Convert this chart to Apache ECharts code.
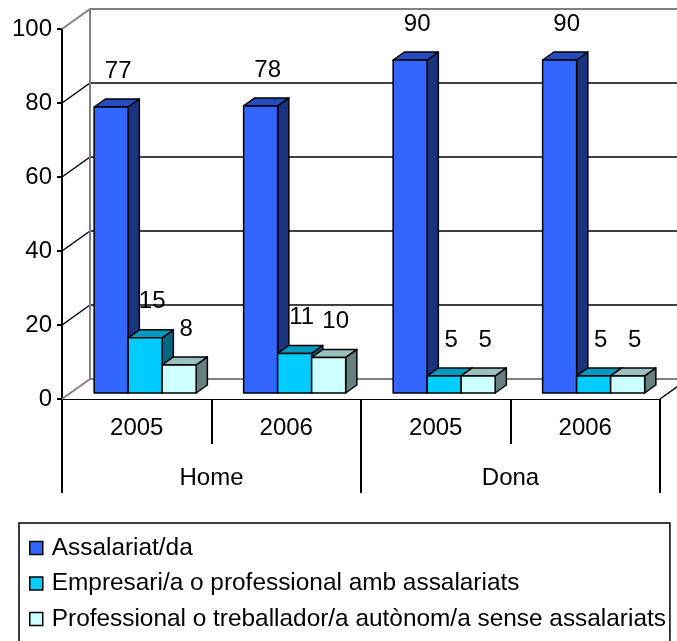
<!DOCTYPE html>
<html>
<head>
<meta charset="utf-8">
<title>ECharts</title>
<script src="https://cdn.jsdelivr.net/npm/echarts@6/dist/echarts.min.js"></script>
<style type="text/css">
    html, body { margin: 0; padding: 0; background: #fff; }
    #main { width: 677px; height: 641px; }
</style>
</head>
<body>
<div id="main"></div>
<script type="text/javascript">
var years = ['2005', '2006', '2005', '2006'];
var groups = ['Home', 'Dona'];
var yTicks = [0, 20, 40, 60, 80, 100];
var names = ['Assalariat/da', 'Empresari/a o professional amb assalariats',
    'Professional o treballador/a autònom/a sense assalariats'];
var assalariat = [77.3, 77.6, 90, 90];
var empresari = [14.9, 10.7, 4.6, 4.6];
var professional = [7.6, 9.6, 4.6, 4.6];

// front, top, side
var shades = [
    ['#3366ff', '#264cbf', '#1a3380'],
    ['#00ccff', '#0099bf', '#006680'],
    ['#ccffff', '#99bfbf', '#668080']
];
var FONT = '"Liberation Sans", Arial, sans-serif';
var DX = 28, DY = -20;        // depth of the back wall
var FRONT = 0.3, DEPTH = 0.4;  // where the bars sit in depth
var BAR_FRAC = 0.2275;

function wallRender(params, api) {
    var cs = params.coordSys;
    var l = cs.x, r = cs.x + cs.width;
    var kids = [];
    var bottom = api.coord([0, 0])[1];
    // floor
    kids.push({type: 'polygon', shape: {points: [[l, bottom], [r, bottom], [r + DX, bottom + DY], [l + DX, bottom + DY]]},
        style: {fill: '#fff', stroke: null}});
    kids.push({type: 'line', shape: {x1: r, y1: bottom, x2: r + DX, y2: bottom + DY}, style: {stroke: '#000', lineWidth: 1.5}});
    yTicks.forEach(function (t) {
        var y = api.coord([0, t])[1];
        var edge = (t === yTicks[0] || t === yTicks[yTicks.length - 1]);
        var col = edge ? '#808080' : '#000';
        kids.push({type: 'line', shape: {x1: l + DX, y1: y + DY, x2: r + DX + 40, y2: y + DY},
            style: {stroke: col, lineWidth: edge ? 2 : 1.5}});
        kids.push({type: 'line', shape: {x1: l, y1: y, x2: l + DX, y2: y + DY},
            style: {stroke: col, lineWidth: edge ? 2 : 1.5}});
    });
    var yTop = api.coord([0, yTicks[yTicks.length - 1]])[1];
    kids.push({type: 'line', shape: {x1: l + DX, y1: yTop + DY, x2: l + DX, y2: bottom + DY},
        style: {stroke: '#808080', lineWidth: 2}});
    return {type: 'group', children: kids};
}

function makeBarRender(k) {
    var c = shades[k];
    return function (params, api) {
        var cat = api.value(0), v = api.value(1);
        var base = api.coord([cat, 0]);
        var top = api.coord([cat, v]);
        var bw = api.size([1, 0])[0] * BAR_FRAC;
        var x0 = base[0] - 1.5 * bw + k * bw + FRONT * DX;
        var y0 = top[1] + FRONT * DY, y1 = base[1] + FRONT * DY;
        var ddx = DEPTH * DX, ddy = DEPTH * DY;
        var st = {stroke: '#000', lineWidth: 1.5, lineJoin: 'round'};
        return {type: 'group', children: [
            {type: 'polygon', shape: {points: [[x0 + bw, y0], [x0 + bw + ddx, y0 + ddy], [x0 + bw + ddx, y1 + ddy], [x0 + bw, y1]]},
                style: Object.assign({fill: c[2]}, st)},
            {type: 'polygon', shape: {points: [[x0, y0], [x0 + bw, y0], [x0 + bw + ddx, y0 + ddy], [x0 + ddx, y0 + ddy]]},
                style: Object.assign({fill: c[1]}, st)},
            {type: 'rect', shape: {x: x0, y: y0, width: bw, height: y1 - y0},
                style: Object.assign({fill: c[0]}, st)},
            {type: 'text', z2: 100, style: {x: x0 + bw / 2 + 7, y: y0 - 36, text: String(Math.round(v)),
                font: '24px ' + FONT, fill: '#000', align: 'center', verticalAlign: 'middle'}}
        ]};
    };
}

function barSeries(k, vals) {
    return {
        name: names[k], type: 'custom', z: 3 + k,
        renderItem: makeBarRender(k),
        itemStyle: {color: shades[k][0]},
        encode: {x: 0, y: 1},
        data: vals.map(function (v, i) { return [i, v]; })
    };
}

var chart = echarts.init(document.getElementById('main'));
chart.setOption({
    animation: false,
    backgroundColor: '#fff',
    textStyle: {fontFamily: FONT},
    grid: {left: 62, right: 17, top: 29, bottom: 242},
    legend: {
        orient: 'vertical', left: 19, top: 523, height: 200,
        padding: [13, 4, 40, 10],
        borderColor: '#000', borderWidth: 1.5,
        itemWidth: 13, itemHeight: 13, itemGap: 11.5,
        icon: 'rect',
        itemStyle: {borderColor: '#000', borderWidth: 1.5},
        textStyle: {fontSize: 24.4, lineHeight: 24, color: '#000', fontFamily: FONT, padding: [0, 0, 0, 4]},
        data: names
    },
    xAxis: [{
        type: 'category', data: years, position: 'bottom',
        axisLine: {show: true, lineStyle: {color: '#000', width: 2}},
        axisTick: {show: true, length: 45, lineStyle: {color: '#000', width: 2}},
        axisLabel: {interval: 0, margin: 17, fontSize: 24, color: '#000', fontFamily: FONT},
        splitLine: {show: false}
    }, {
        type: 'category', data: groups, position: 'bottom', offset: 0,
        axisLine: {show: false},
        axisTick: {show: true, length: 94, lineStyle: {color: '#000', width: 2}},
        axisLabel: {interval: 0, margin: 67, fontSize: 24, color: '#000', fontFamily: FONT},
        splitLine: {show: false}
    }],
    yAxis: {
        type: 'value', min: 0, max: 100, interval: 20,
        axisLine: {show: true, lineStyle: {color: '#000', width: 2}},
        axisTick: {show: true, length: 5, lineStyle: {color: '#000', width: 2}},
        axisLabel: {margin: 10, fontSize: 24, color: '#000', fontFamily: FONT},
        splitLine: {show: false}
    },
    series: [
        {type: 'custom', name: 'walls', z: 1, silent: true, renderItem: wallRender, data: [[0, 0]]},
        barSeries(0, assalariat),
        barSeries(1, empresari),
        barSeries(2, professional)
    ]
});
</script>
</body>
</html>
